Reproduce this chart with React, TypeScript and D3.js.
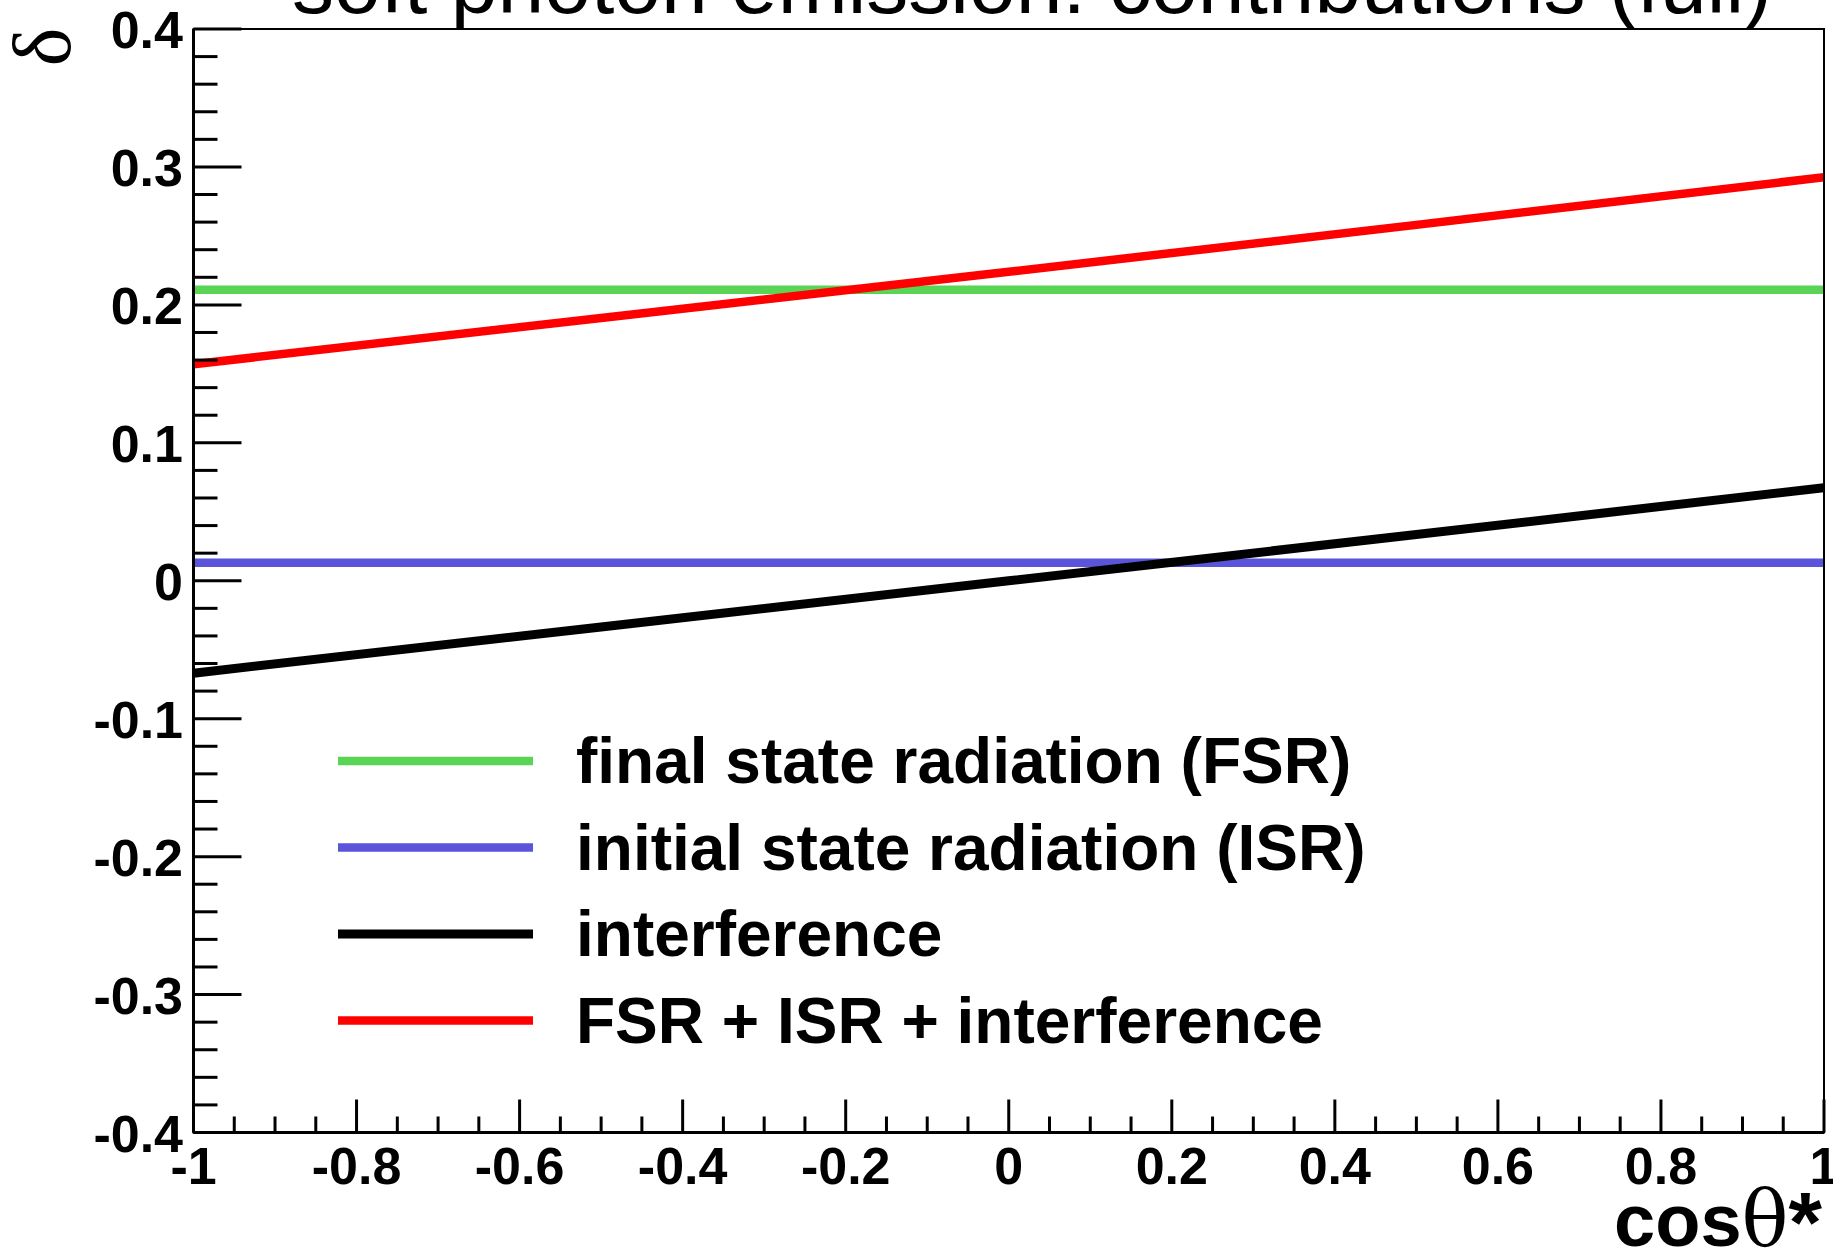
import React from "react";
import * as d3 from "d3";

// cosθ* sample points and the correction δ of each contribution
const cosTheta = [-1, -0.5, 0, 0.5, 1];
const fsr = [0.211, 0.211, 0.211, 0.211, 0.211];
const isr = [0.013, 0.013, 0.013, 0.013, 0.013];
const interference = [-0.067, -0.0335, 0, 0.0335, 0.0675];
const total = [0.157, 0.1905, 0.224, 0.258, 0.2925];

const seriesNames = [
  "final state radiation (FSR)",
  "initial state radiation (ISR)",
  "interference",
  "FSR + ISR + interference",
];
const seriesColors = ["#59d454", "#5954d9", "#000000", "#ff0000"];
const seriesWidths = [8.5, 8.5, 9, 8.5];

const xMajorTicks = [-1, -0.8, -0.6, -0.4, -0.2, 0, 0.2, 0.4, 0.6, 0.8, 1];
const yMajorTicks = [-0.4, -0.3, -0.2, -0.1, 0, 0.1, 0.2, 0.3, 0.4];
const titleText = "soft photon emission: contributions (full)";

const W = 1833;
const H = 1252;
const left = 193.5;
const right = 1824;
const top = 29;
const bottom = 1132.5;

export default function App() {
  const x = d3.scaleLinear().domain([-1, 1]).range([left, right]);
  const y = d3.scaleLinear().domain([-0.4, 0.4]).range([bottom, top]);

  const series = [fsr, isr, interference, total];
  const line = d3
    .line<[number, number]>()
    .x((d) => x(d[0]))
    .y((d) => y(d[1]));

  const xMinor = d3.range(-1, 1.0001, 0.05).filter(
    (v) => !xMajorTicks.some((m) => Math.abs(m - v) < 1e-6)
  );
  const yMinor = d3.range(-0.4, 0.4001, 0.02).filter(
    (v) => !yMajorTicks.some((m) => Math.abs(m - v) < 1e-6)
  );

  const fmt = (v: number) => {
    if (Math.abs(v) < 1e-9) return "0";
    return String(+v.toFixed(1));
  };

  const labelFont = "'Liberation Sans', Arial, Helvetica, sans-serif";
  const legendY = [761, 847.5, 934, 1020.5];

  return (
    <svg
      width={W}
      height={H}
      style={{ position: "absolute", left: 0, top: 0, background: "#fff" }}
    >
      <rect x={0} y={0} width={W} height={H} fill="#fff" />
      {/* title, partly above the canvas */}
      <text x={292} y={13} fontFamily={labelFont} fontSize={84} fill="#000">
        {titleText}
      </text>

      <defs>
        <clipPath id="plotArea">
          <rect x={left} y={top} width={right - left} height={bottom - top} />
        </clipPath>
      </defs>

      {/* curves */}
      <g clipPath="url(#plotArea)">
        {series.map((vals, i) => (
          <path
            key={i}
            d={line(cosTheta.map((c, k) => [c, vals[k]] as [number, number])) || ""}
            fill="none"
            stroke={seriesColors[i]}
            strokeWidth={seriesWidths[i]}
          />
        ))}
      </g>

      {/* frame */}
      <rect
        x={left}
        y={top}
        width={right - left}
        height={bottom - top}
        fill="none"
        stroke="#000"
        strokeWidth={2}
      />
      <line x1={left} x2={left} y1={top} y2={bottom} stroke="#000" strokeWidth={3} />
      <line x1={left} x2={right} y1={bottom} y2={bottom} stroke="#000" strokeWidth={3} />

      {/* y axis ticks */}
      {yMajorTicks.map((v) => (
        <line key={"ym" + v} x1={left} x2={left + 48} y1={y(v)} y2={y(v)} stroke="#000" strokeWidth={3} />
      ))}
      {yMinor.map((v, i) => (
        <line key={"yn" + i} x1={left} x2={left + 24} y1={y(v)} y2={y(v)} stroke="#000" strokeWidth={3} />
      ))}
      {yMajorTicks.map((v) => (
        <text
          key={"yl" + v}
          x={183}
          y={y(v) + 19}
          textAnchor="end"
          fontFamily={labelFont}
          fontWeight="bold"
          fontSize={52}
        >
          {fmt(v)}
        </text>
      ))}

      {/* x axis ticks */}
      {xMajorTicks.map((v) => (
        <line key={"xm" + v} x1={x(v)} x2={x(v)} y1={bottom} y2={bottom - 33} stroke="#000" strokeWidth={3} />
      ))}
      {xMinor.map((v, i) => (
        <line key={"xn" + i} x1={x(v)} x2={x(v)} y1={bottom} y2={bottom - 16} stroke="#000" strokeWidth={3} />
      ))}
      {xMajorTicks.map((v) => (
        <text
          key={"xl" + v}
          x={x(v)}
          y={1184}
          textAnchor="middle"
          fontFamily={labelFont}
          fontWeight="bold"
          fontSize={52}
        >
          {fmt(v)}
        </text>
      ))}

      {/* axis titles */}
      <text
        x={1822}
        y={1246}
        textAnchor="end"
        fontFamily={labelFont}
        fontWeight="bold"
        fontSize={74}
      >
        cos
        <tspan fontFamily="'DejaVu Serif', 'Liberation Serif', serif" fontWeight="normal" fontSize={78}>
          θ
        </tspan>
        <tspan fontSize={86} dy={6}>*</tspan>
      </text>
      <text
        transform="translate(70,47) rotate(-90)"
        textAnchor="middle"
        fontFamily="'Liberation Serif', 'DejaVu Serif', serif"
        fontSize={82}
      >
        δ
      </text>

      {/* legend */}
      {seriesNames.map((name, i) => (
        <g key={"lg" + i}>
          <line
            x1={338}
            x2={533}
            y1={legendY[i]}
            y2={legendY[i]}
            stroke={seriesColors[i]}
            strokeWidth={seriesWidths[i]}
          />
          <text
            x={576}
            y={legendY[i] + 22}
            fontFamily={labelFont}
            fontWeight="bold"
            fontSize={64}
          >
            {name}
          </text>
        </g>
      ))}
    </svg>
  );
}
